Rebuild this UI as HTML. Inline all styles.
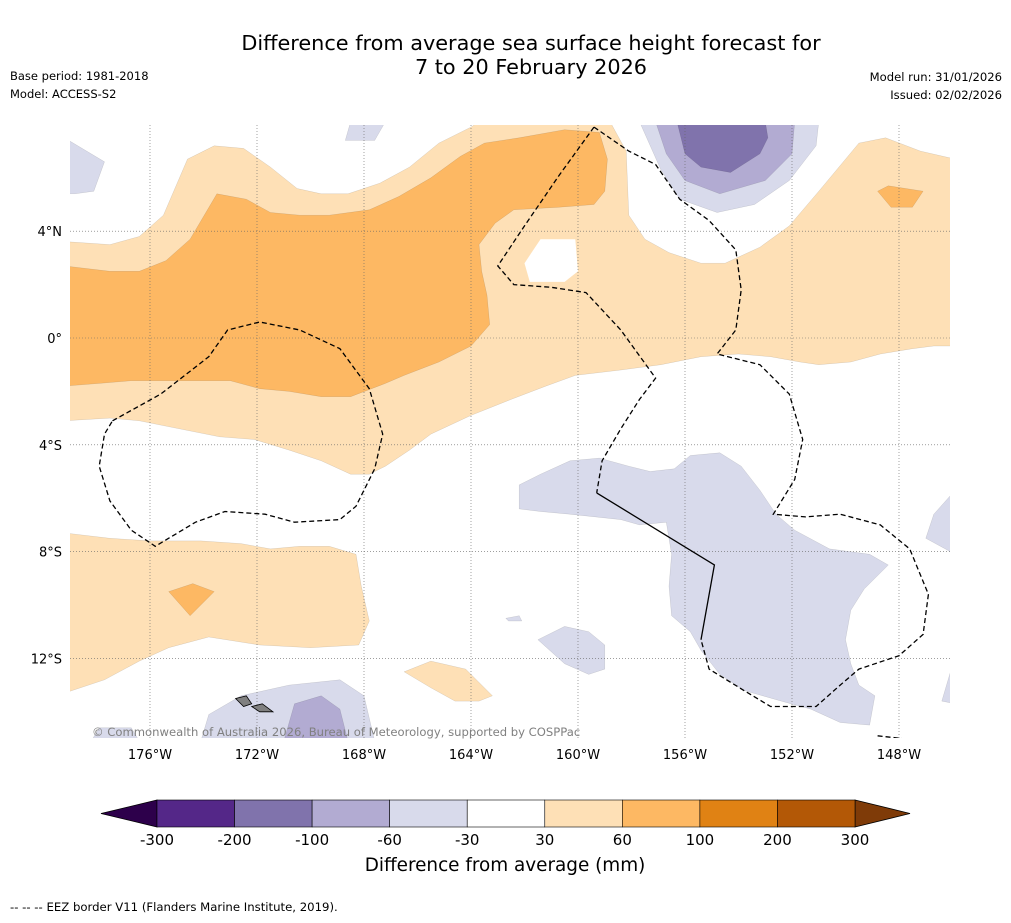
<!DOCTYPE html>
<html><head><meta charset="utf-8">
<style>
html,body{margin:0;padding:0;background:#fff;}
body{width:1011px;height:919px;overflow:hidden;font-family:"DejaVu Sans","Liberation Sans",sans-serif;}
svg text{font-family:"DejaVu Sans","Liberation Sans",sans-serif;}
</style></head>
<body>
<svg id="chart" width="1011" height="919" viewBox="0 0 1011 919" xmlns="http://www.w3.org/2000/svg">
<text x="531" y="50" font-size="20.8" text-anchor="middle">Difference from average sea surface height forecast for</text>
<text x="531" y="74" font-size="20.8" text-anchor="middle">7 to 20 February 2026</text>
<text x="10" y="80" font-size="11.5">Base period: 1981-2018</text>
<text x="10" y="98" font-size="11.5">Model: ACCESS-S2</text>
<text x="1002" y="81" font-size="11.6" text-anchor="end">Model run: 31/01/2026</text>
<text x="1002" y="99" font-size="11.6" text-anchor="end">Issued: 02/02/2026</text>
<defs><clipPath id="plotclip"><rect x="70" y="125" width="880" height="613"/></clipPath></defs>
<g id="map" clip-path="url(#plotclip)"></g>
<g id="axes"></g>
<text x="92" y="736" font-size="11.6" fill="#808080">© Commonwealth of Australia 2026, Bureau of Meteorology, supported by COSPPac</text>
<g id="cbar"></g>
<text x="505" y="871" font-size="18.4" text-anchor="middle">Difference from average (mm)</text>
<text x="10" y="911" font-size="11.7">--  --  -- EEZ border V11 (Flanders Marine Institute, 2019).</text>
</svg>
<script>
// longitude in degrees West, latitude in degrees (N positive)
const lonTicks = [176,172,168,164,160,156,152,148];
const latTicks = [4,0,-4,-8,-12];
const latTickLabels = ['4°N','0°','4°S','8°S','12°S'];
const cbarLevels = ['-300','-200','-100','-60','-30','30','60','100','200','300'];
const cbarColors = ['#542788','#8073ac','#b2abd2','#d8daeb','#ffffff','#fee0b6','#fdb863','#e08214','#b35806'];
const cbarUnder = '#2d004b';
const cbarOver = '#7f3b08';

const lightOrangeMain = [[179.0,3.6],[177.5,3.5],[176.4,3.8],[175.5,4.6],[174.6,6.7],[173.6,7.2],[172.5,7.1],[171.5,6.4],[170.5,5.6],[169.6,5.4],[168.6,5.4],[167.4,5.8],[166.3,6.4],[165.2,7.3],[164.0,7.9],[163.7,8.1],[158.8,8.1],[158.2,7.0],[158.1,4.6],[157.5,3.7],[156.6,3.2],[155.4,2.8],[154.5,2.8],[153.2,3.4],[152.1,4.2],[151.0,5.5],[149.5,7.3],[148.5,7.5],[147.2,7.0],[145.9,6.7],[145.9,-0.3],[146.7,-0.3],[147.5,-0.4],[148.7,-0.6],[149.8,-0.9],[151.0,-1.0],[151.7,-0.9],[152.8,-0.7],[154.0,-0.6],[155.4,-0.7],[156.9,-1.0],[158.4,-1.2],[160.1,-1.4],[161.2,-1.8],[162.5,-2.3],[164.0,-2.9],[165.5,-3.6],[166.3,-4.2],[167.2,-4.8],[167.8,-5.1],[168.5,-5.1],[169.6,-4.6],[170.8,-4.2],[172.1,-3.8],[173.4,-3.7],[174.9,-3.4],[176.4,-3.1],[177.5,-3.0],[179.2,-3.1]];
const whiteHole = [[161.4,3.7],[160.1,3.7],[160.0,2.5],[160.5,2.1],[161.8,2.1],[162.0,2.8]];
const medOrangeMain = [[179.2,2.7],[177.5,2.5],[176.4,2.5],[175.4,2.9],[174.5,3.7],[173.5,5.4],[172.4,5.2],[171.5,4.7],[170.4,4.6],[169.3,4.6],[167.8,4.8],[166.7,5.3],[165.5,6.0],[164.4,6.8],[163.5,7.3],[162.2,7.5],[160.5,7.8],[159.2,7.7],[158.9,6.7],[159.0,5.5],[159.4,5.0],[160.7,4.9],[162.4,4.8],[163.1,4.3],[163.7,3.5],[163.6,2.5],[163.4,1.6],[163.3,0.5],[164.0,-0.3],[165.2,-0.9],[166.5,-1.4],[167.2,-1.7],[168.5,-2.2],[169.6,-2.2],[170.8,-2.0],[171.9,-1.9],[173.0,-1.6],[174.9,-1.6],[176.7,-1.6],[177.9,-1.7],[179.2,-1.8]];
const medOrangeNE = [[148.8,5.5],[148.4,5.7],[147.1,5.5],[147.5,4.9],[148.3,4.9]];
const lightOrangeSW = [[179.2,-7.3],[177.5,-7.5],[176.0,-7.6],[174.1,-7.6],[172.6,-7.7],[171.5,-7.9],[170.4,-7.8],[169.3,-7.8],[168.3,-8.1],[168.1,-9.3],[167.8,-10.6],[168.2,-11.5],[170.0,-11.6],[171.9,-11.5],[173.8,-11.2],[175.3,-11.6],[176.4,-12.1],[177.7,-12.8],[179.2,-13.3]];
const medOrangeSW = [[175.3,-9.5],[174.4,-9.2],[173.6,-9.5],[174.5,-10.4]];
const lightOrangeS = [[166.5,-12.5],[165.5,-12.1],[164.2,-12.4],[163.2,-13.4],[163.7,-13.6],[164.6,-13.6],[165.5,-13.1]];
const lightPurpleNE = [[157.7,8.1],[156.9,6.3],[156.2,5.2],[154.8,4.7],[153.4,5.0],[152.1,5.9],[151.1,7.2],[151.0,8.1]];
const medPurpleNE = [[157.1,8.1],[156.7,6.9],[156.0,5.9],[154.7,5.4],[153.0,5.9],[152.0,6.9],[151.9,8.1]];
const darkPurpleNE = [[156.3,8.1],[156.0,6.9],[155.4,6.4],[154.3,6.2],[153.2,6.9],[152.9,7.5],[153.0,8.1]];
const lightPurpleNW = [[179.2,7.5],[177.7,6.6],[178.1,5.5],[178.8,5.4],[179.2,5.4]];
const lightPurpleN = [[168.7,7.4],[168.5,8.1],[167.2,8.1],[167.6,7.4]];
const lightPurpleE1 = [[145.9,-5.7],[146.7,-6.6],[147.0,-7.5],[145.9,-8.1]];
const lightPurpleE2 = [[145.9,-11.9],[146.4,-13.6],[145.9,-13.7]];
const lightPurpleBig = [[162.2,-5.5],[161.4,-5.1],[160.3,-4.6],[159.2,-4.5],[158.1,-4.8],[157.3,-5.0],[156.4,-4.9],[155.8,-4.4],[154.7,-4.3],[153.9,-4.8],[153.2,-5.7],[152.6,-6.6],[151.9,-7.2],[150.6,-7.9],[149.1,-8.1],[148.4,-8.5],[149.3,-9.4],[149.8,-10.2],[150.0,-11.3],[149.8,-12.2],[149.5,-13.0],[148.9,-13.4],[149.1,-14.5],[150.2,-14.4],[151.3,-13.9],[152.4,-13.6],[153.8,-13.2],[154.7,-12.6],[155.4,-11.7],[155.8,-11.0],[156.5,-10.4],[156.6,-9.3],[156.5,-8.1],[156.7,-6.9],[157.7,-7.0],[158.4,-6.8],[160.3,-6.6],[161.4,-6.5],[162.2,-6.4]];
const lightPurpleS1 = [[161.5,-11.3],[160.5,-10.8],[159.6,-11.0],[159.0,-11.5],[159.0,-12.4],[159.6,-12.6],[160.5,-12.2]];
const lightPurpleS2 = [[162.7,-10.5],[162.2,-10.4],[162.1,-10.6],[162.6,-10.6]];
const lightPurpleSW = [[174.1,-15.1],[173.8,-14.1],[172.6,-13.4],[170.8,-13.0],[168.9,-12.8],[168.0,-13.4],[167.6,-15.1]];
const medPurpleSW = [[171.0,-15.1],[170.6,-13.7],[169.6,-13.4],[168.9,-13.9],[168.6,-15.1]];
const lightPurpleFarSW = [[178.2,-15.1],[177.9,-14.6],[176.7,-14.6],[176.4,-15.1]];

const eezWest = [[159.4,7.9],[160.7,6.1],[162.0,4.2],[163.0,2.7],[162.4,2.0],[161.0,1.9],[159.7,1.7],[158.4,0.3],[157.1,-1.5],[157.7,-2.3],[158.4,-3.4],[159.1,-4.6],[159.3,-5.8]];
const eezEast = [[159.4,7.9],[158.1,7.0],[157.1,6.5],[156.2,5.2],[155.1,4.4],[154.1,3.3],[153.9,1.8],[154.1,0.3],[154.8,-0.6],[153.2,-1.0],[152.1,-2.1],[151.6,-3.8],[151.9,-5.3],[152.7,-6.6],[151.5,-6.7],[150.2,-6.6],[148.7,-7.0],[147.6,-7.9],[146.9,-9.6],[147.1,-11.1],[148.0,-11.9],[149.5,-12.4],[150.2,-13.0],[151.1,-13.8],[152.8,-13.8],[153.8,-13.2],[155.1,-12.4],[155.4,-11.3]];
const eezSolid = [[159.3,-5.8],[154.9,-8.5],[155.4,-11.3]];
const eezLeft = [[177.4,-3.1],[175.6,-2.1],[173.8,-0.7],[173.1,0.3],[171.9,0.6],[170.4,0.3],[168.9,-0.4],[167.8,-1.9],[167.3,-3.6],[167.6,-4.9],[168.3,-6.3],[168.9,-6.8],[170.6,-6.9],[171.7,-6.6],[173.2,-6.5],[174.3,-6.9],[175.8,-7.8],[176.7,-7.2],[177.5,-6.1],[177.9,-4.8],[177.7,-3.6],[177.4,-3.1]];
const eezSE = [[148.8,-14.9],[147.9,-15.0]];
const islandSamoa1 = [[172.8,-13.5],[172.4,-13.4],[172.2,-13.7],[172.5,-13.8]];
const islandSamoa2 = [[172.2,-13.8],[171.8,-13.7],[171.4,-14.0],[171.9,-14.0]];

const NS='http://www.w3.org/2000/svg';
function x(lonW){return 150+(176-lonW)*26.75;}
function y(lat){return 338-lat*26.7;}
function pts(a){return a.map(p=>x(p[0]).toFixed(1)+','+y(p[1]).toFixed(1)).join(' ');}
const map=document.getElementById('map');
function poly(a,fill,name){
  const el=document.createElementNS(NS,'polygon');
  el.setAttribute('points',pts(a));
  el.setAttribute('fill',fill);
  el.setAttribute('stroke',fill==='#ffffff'?'none':'rgba(0,0,0,0.15)');
  el.setAttribute('stroke-width','0.5');
  
  
  map.appendChild(el);
}
function line(a,dash,name,closed){
  const el=document.createElementNS(NS,closed?'polygon':'polyline');
  el.setAttribute('points',pts(a));
  el.setAttribute('fill','none');
  el.setAttribute('stroke','#000');
  el.setAttribute('stroke-width','1.3');
  if(dash)el.setAttribute('stroke-dasharray','5,3');
  
  
  map.appendChild(el);
}
const LO=cbarColors[5],MO=cbarColors[6],LP=cbarColors[3],MP=cbarColors[2],DP=cbarColors[1];
poly(lightOrangeMain,LO,'contour-30-60-main');
poly(medOrangeMain,MO,'contour-60-100-main');
poly(whiteHole,'#ffffff','contour-hole');
poly(medOrangeNE,MO,'contour-60-100-ne');
poly(lightOrangeSW,LO,'contour-30-60-sw');
poly(medOrangeSW,MO,'contour-60-100-sw');
poly(lightOrangeS,LO,'contour-30-60-s');
poly(lightPurpleNE,LP,'contour-neg30-60-ne');
poly(medPurpleNE,MP,'contour-neg60-100-ne');
poly(darkPurpleNE,DP,'contour-neg100-200-ne');
poly(lightPurpleNW,LP,'contour-neg30-60-nw');
poly(lightPurpleN,LP,'contour-neg30-60-n');
poly(lightPurpleE1,LP,'contour-neg30-60-e1');
poly(lightPurpleE2,LP,'contour-neg30-60-e2');
poly(lightPurpleBig,LP,'contour-neg30-60-big');
poly(lightPurpleS1,LP,'contour-neg30-60-s1');
poly(lightPurpleS2,LP,'contour-neg30-60-s2');
poly(lightPurpleSW,LP,'contour-neg30-60-sw');
poly(medPurpleSW,MP,'contour-neg60-100-sw');
poly(lightPurpleFarSW,LP,'contour-neg30-60-far-sw');
lonTicks.forEach(l=>{
  const g=document.createElementNS(NS,'line');
  g.setAttribute('x1',x(l));g.setAttribute('x2',x(l));g.setAttribute('y1',125);g.setAttribute('y2',738);
  g.setAttribute('stroke','#666');g.setAttribute('stroke-width','0.6');g.setAttribute('stroke-dasharray','1,2');
  
  
  map.appendChild(g);
});
latTicks.forEach(l=>{
  const g=document.createElementNS(NS,'line');
  g.setAttribute('y1',y(l));g.setAttribute('y2',y(l));g.setAttribute('x1',70);g.setAttribute('x2',950);
  g.setAttribute('stroke','#666');g.setAttribute('stroke-width','0.6');g.setAttribute('stroke-dasharray','1,2');
  
  
  map.appendChild(g);
});
line(eezWest,true,'eez-border-west',false);
line(eezEast,true,'eez-border-east',false);
line(eezSolid,false,'eez-border-solid',false);
line(eezLeft,true,'eez-border-left',true);
line(eezSE,true,'eez-border-se',false);
[islandSamoa1,islandSamoa2].forEach(a=>{
  const el=document.createElementNS(NS,'polygon');
  el.setAttribute('points',pts(a));el.setAttribute('fill','#808080');el.setAttribute('stroke','#000');el.setAttribute('stroke-width','0.8');
  
  
  map.appendChild(el);
});
const axes=document.getElementById('axes');
lonTicks.forEach(l=>{
  const t=document.createElementNS(NS,'text');
  t.setAttribute('x',x(l));t.setAttribute('y',759);t.setAttribute('font-size','13');t.setAttribute('text-anchor','middle');
  t.textContent=l+'°W';
  
  
  axes.appendChild(t);
});
latTicks.forEach((l,i)=>{
  const t=document.createElementNS(NS,'text');
  t.setAttribute('x',62);t.setAttribute('y',y(l)+5);t.setAttribute('font-size','13');t.setAttribute('text-anchor','end');
  t.textContent=latTickLabels[i];
  
  
  axes.appendChild(t);
});
const cb=document.getElementById('cbar');
const cbx0=157,cbx1=855,cby0=800,cby1=827;
function cx(i){return cbx0+(cbx1-cbx0)*i/(cbarLevels.length-1);}
const under=document.createElementNS(NS,'polygon');
under.setAttribute('points',`${cbx0},${cby0} ${cbx0},${cby1} 101,${(cby0+cby1)/2}`);
under.setAttribute('fill',cbarUnder);under.setAttribute('stroke','#000');under.setAttribute('stroke-width','0.8');


cb.appendChild(under);
const over=document.createElementNS(NS,'polygon');
over.setAttribute('points',`${cbx1},${cby0} ${cbx1},${cby1} 910,${(cby0+cby1)/2}`);
over.setAttribute('fill',cbarOver);over.setAttribute('stroke','#000');over.setAttribute('stroke-width','0.8');


cb.appendChild(over);
cbarColors.forEach((c,i)=>{
  const r=document.createElementNS(NS,'rect');
  r.setAttribute('x',cx(i));r.setAttribute('y',cby0);r.setAttribute('width',cx(i+1)-cx(i));r.setAttribute('height',cby1-cby0);
  r.setAttribute('fill',c);r.setAttribute('stroke','#000');r.setAttribute('stroke-width','0.6');
  
  
  cb.appendChild(r);
});
cbarLevels.forEach((lab,i)=>{
  const t=document.createElementNS(NS,'text');
  t.setAttribute('x',cx(i));t.setAttribute('y',845);t.setAttribute('font-size','15');t.setAttribute('text-anchor','middle');
  t.textContent=lab;
  
  
  cb.appendChild(t);
});
</script>
</body></html>
